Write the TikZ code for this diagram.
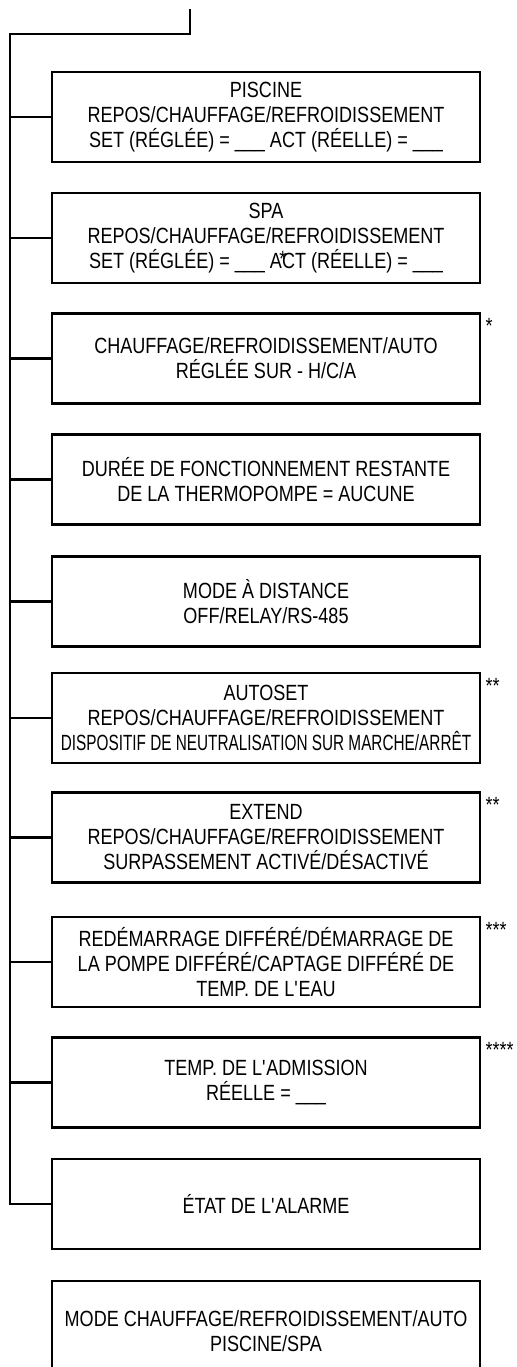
\documentclass[tikz,border=0pt]{standalone}
\usepackage{fontspec}
\setmainfont{Liberation Sans}[FakeStretch=0.82]
\usepackage{graphicx}

\begin{document}
\begin{tikzpicture}[x=0.5pt,y=-0.5pt,
		menubox/.style={draw,line width=1.1pt,minimum width=214pt,minimum height=45pt,
			align=center,inner sep=0pt,font=\fontsize{11}{12.5}\selectfont},
		wire/.style={line width=1.1pt},
		note/.style={anchor=north west,inner sep=0pt,font=\fontsize{11}{11}\selectfont}]
			\clip (0,0) rectangle (517,1367);
			
			% menu tree
			\coordinate (start) at (190,9);
			\coordinate (bend) at (190,34);
			\coordinate (left) at (10,34);
			
			\node[menubox] (piscine) at (266,117) {PISCINE\\REPOS/CHAUFFAGE/REFROIDISSEMENT\\SET (RÉGLÉE) = \_\_\_ ACT (RÉELLE) = \_\_\_};
			\node[menubox] (spa) at (266,238) {SPA\\REPOS/CHAUFFAGE/REFROIDISSEMENT\\SET (RÉGLÉE) = \_\_\_ ACT (RÉELLE) = \_\_\_};
			\node[menubox] (reglage) at (266,358.5) {CHAUFFAGE/REFROIDISSEMENT/AUTO\\RÉGLÉE SUR - H/C/A};
			\node[menubox] (duree) at (266,479.5) {DURÉE DE FONCTIONNEMENT RESTANTE\\DE LA THERMOPOMPE = AUCUNE};
			\node[menubox] (distance) at (266,601.5) {MODE À DISTANCE\\OFF/RELAY/RS-485};
			\node[menubox] (autoset) at (266,718) {AUTOSET\\REPOS/CHAUFFAGE/REFROIDISSEMENT\\\scalebox{0.85}[1]{DISPOSITIF DE NEUTRALISATION SUR MARCHE/ARRÊT}};
			\node[menubox] (extend) at (266,837.5) {EXTEND\\REPOS/CHAUFFAGE/REFROIDISSEMENT\\SURPASSEMENT ACTIVÉ/DÉSACTIVÉ};
			\node[menubox] (differe) at (266,962) {REDÉMARRAGE DIFFÉRÉ/DÉMARRAGE DE\\LA POMPE DIFFÉRÉ/CAPTAGE DIFFÉRÉ DE\\TEMP. DE L\textquotesingle EAU};
			\node[menubox] (admission) at (266,1082.5) {TEMP. DE L\textquotesingle ADMISSION\\RÉELLE = \_\_\_};
			\node[menubox] (alarme) at (266,1204) {ÉTAT DE L\textquotesingle ALARME};
			\node[menubox,minimum height=50pt] (mode) at (266,1331) {MODE CHAUFFAGE/REFROIDISSEMENT/AUTO\\PISCINE/SPA};
			
			% footnote marks
			\node[note] (star1) at ([xshift=2pt,yshift=-3pt]reglage.north east) {*};
			\node[note] (star2) at ([xshift=2pt,yshift=-3pt]autoset.north east) {**};
			\node[note] (star3) at ([xshift=2pt,yshift=-3pt]extend.north east) {**};
			\node[note] (star4) at ([xshift=2pt,yshift=-3pt]differe.north east) {***};
			\node[note] (star5) at ([xshift=2pt,yshift=-3pt]admission.north east) {****};
			\node[note] (stray) at (279,251) {*};
			
			\draw[wire] (start) -- (bend) -- (left) -- (alarme.west -| left) -- (alarme.west);
			\foreach \n in {piscine,spa,reglage,duree,distance,autoset,extend,differe,admission}
				\draw[wire] (\n.west -| left) -- (\n.west);
		\end{tikzpicture}
\end{document}
